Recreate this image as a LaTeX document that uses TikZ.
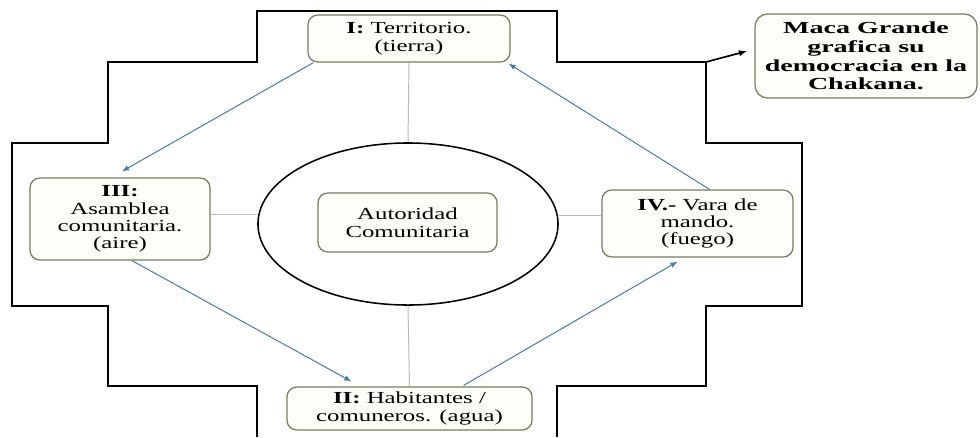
\documentclass[tikz,border=0pt]{standalone}
\usepackage{fontspec}
\setmainfont{Liberation Serif}[FakeStretch=1.47]
\newfontfamily\macafont{Liberation Serif}[FakeStretch=1.66]
\usetikzlibrary{calc,shapes.geometric,arrows.meta}
\definecolor{boxline}{RGB}{118,126,96}
\definecolor{boxfill}{RGB}{254,254,249}
\definecolor{flow}{RGB}{72,122,160}
\definecolor{spoke}{RGB}{185,185,185}
\tikzset{
	part/.style={draw=boxline, fill=boxfill, line width=0.9pt, rounded corners=7pt, align=center, inner sep=0pt, font=\fontsize{12}{12.4}\selectfont},
	flowarrow/.style={draw=flow, line width=0.7pt, -{Latex[length=5pt,width=4pt]}},
	spokeline/.style={draw=spoke, line width=0.7pt},
}

\begin{document}
\begin{tikzpicture}[x=0.025cm, y=-0.025cm]
			%%%%% START %%%%%
			\useasboundingbox (0, 0) rectangle (980, 437);
			
			% chakana outline
			\draw[line width=1.4pt] (257, 437) -- (257, 386) -- (108, 386) -- (108, 306) -- (12, 306) -- (12, 143) -- (108, 143) -- (108, 62) -- (257, 62) -- (257, 11) -- (557, 11) -- (557, 62) -- (706, 62) -- (706, 143) -- (802, 143) -- (802, 306) -- (706, 306) -- (706, 386) -- (557, 386) -- (557, 437);
			\coordinate (knee) at (706, 62);
			
			\node[draw, ellipse, line width=1.1pt, minimum width=7.5cm, minimum height=4.05cm, inner sep=0pt] (ring) at (408, 224) {};
			
			\node[part, minimum width=5.05cm, minimum height=1.175cm] (terr) at (409, 38.5) {\textbf{I:} Territorio.\\(tierra)};
			\node[part, minimum width=4.5cm, minimum height=2.05cm] (asam) at (120, 219) {\textbf{III:}\\Asamblea\\comunitaria.\\(aire)};
			\node[part, minimum width=4.475cm, minimum height=1.475cm] (auto) at (407.5, 222.5) {Autoridad\\Comunitaria};
			\node[part, minimum width=4.775cm, minimum height=1.675cm] (vara) at (697.5, 223.5) {\textbf{IV.-} Vara de\\mando.\\(fuego)};
			\node[part, minimum width=6.125cm, minimum height=1.075cm] (habi) at (409.5, 408.5) {\textbf{II:} Habitantes /\\comuneros. (agua)};
			\node[part, minimum width=5.55cm, minimum height=2.1cm, rounded corners=9pt, font=\macafont\bfseries\fontsize{12}{13.3}\selectfont] (maca) at (866, 56) {Maca Grande\\grafica su\\democracia en la\\Chakana.};
			
			% spokes
			\draw[spokeline] (terr.south) -- (ring.north);
			\draw[spokeline] (ring.south) -- (habi.north);
			\draw[spokeline] ($(asam.east)+(0,-5)$) -- ($(ring.west)+(0,-10)$);
			\draw[spokeline] ($(ring.east)+(0,-9)$) -- ($(vara.west)+(0,-8.5)$);
			
			% cycle
			\draw[flowarrow] ($(terr.south west)+(6,0)$) -- ($(asam.north)+(2,-6)$);
			\draw[flowarrow] ($(asam.south)+(12,0)$) -- ($(habi.north west)+(65,-5)$);
			\draw[flowarrow] ($(habi.north east)+(-69,-1)$) -- ($(vara.south)+(-20,4)$);
			\draw[flowarrow] ($(vara.north)+(12,0)$) -- ($(terr.south east)+(-2,1)$);
			
			\draw[line width=1.2pt, -{Latex[length=6pt,width=4.5pt]}] (knee) -- ($(maca.west)+(-7,-5)$);
			%%%%% END %%%%%
\end{tikzpicture}
\end{document}
